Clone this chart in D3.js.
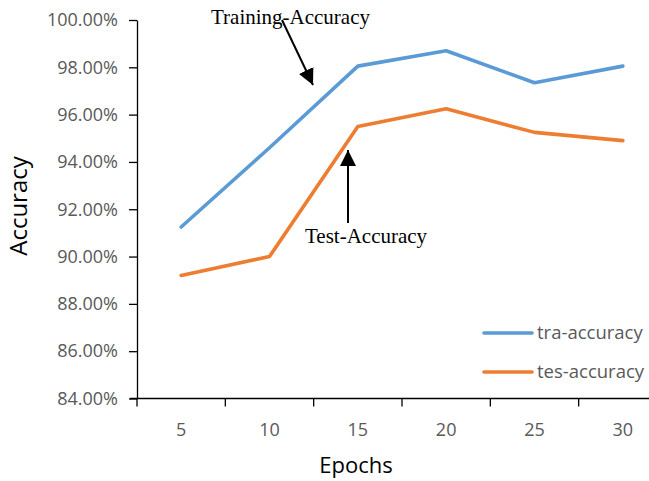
<!DOCTYPE html>
<html>
<head>
<meta charset="utf-8">
<script src="https://cdn.jsdelivr.net/npm/d3@7"></script>
<style>
  html, body { margin: 0; padding: 0; background: #fff; }
  svg { display: block; }
</style>
</head>
<body>
<svg id="chart" width="649" height="481"></svg>
<script>
// Epoch categories and accuracy per series (percent)
const epochs = ["5", "10", "15", "20", "25", "30"];
const traAccuracy = [91.25, 94.6, 98.05, 98.7, 97.35, 98.05];
const tesAccuracy = [89.2, 90.0, 95.5, 96.25, 95.25, 94.9];
const yTicks = [84, 86, 88, 90, 92, 94, 96, 98, 100];
const seriesNames = ["tra-accuracy", "tes-accuracy"];
const seriesColors = ["#5B9BD5", "#ED7D31"];

const svg = d3.select("#chart");
const sansFont = "'Open Sans', 'DejaVu Sans', sans-serif";
const serifFont = "'Liberation Serif', 'DejaVu Serif', serif";

const x = d3.scaleBand().domain(epochs).range([137, 667]);
const y = d3.scaleLinear().domain([84, 100]).range([398.5, 20]);

// Y axis
const yAxis = svg.append("g")
  .attr("transform", "translate(137,0)")
  .call(d3.axisLeft(y).tickValues(yTicks).tickSize(8).tickSizeOuter(0)
    .tickFormat(d => d.toFixed(2) + "%"));
yAxis.select(".domain").attr("stroke", "#000").attr("stroke-width", 1.3);
yAxis.selectAll(".tick line").attr("stroke", "#000").attr("stroke-width", 1.3);
yAxis.selectAll(".tick text")
  .attr("x", -19)
  .attr("fill", "#595959")
  .style("font-family", sansFont)
  .style("font-size", "18px");

// X axis: ticks sit on the band boundaries, labels at band centres
const xAxisG = svg.append("g").attr("transform", "translate(0,398.5)");
xAxisG.append("line")
  .attr("x1", 130).attr("x2", 667)
  .attr("stroke", "#000").attr("stroke-width", 1.3);
const bounds = epochs.map(e => x(e)).concat([x.range()[1]]);
xAxisG.selectAll("line.tick")
  .data(bounds)
  .join("line")
  .attr("class", "tick")
  .attr("x1", d => d).attr("x2", d => d)
  .attr("y1", 0).attr("y2", 8)
  .attr("stroke", "#000").attr("stroke-width", 1.3);
xAxisG.selectAll("text")
  .data(epochs)
  .join("text")
  .attr("x", d => x(d) + x.bandwidth() / 2)
  .attr("y", 37)
  .attr("text-anchor", "middle")
  .attr("fill", "#595959")
  .style("font-family", sansFont)
  .style("font-size", "18px")
  .text(d => d);

// Axis titles
svg.append("text")
  .attr("x", 356).attr("y", 473)
  .attr("text-anchor", "middle")
  .attr("fill", "#000")
  .style("font-family", sansFont)
  .style("font-size", "22px")
  .text("Epochs");

svg.append("text")
  .attr("transform", "translate(27,206) rotate(-90)")
  .attr("text-anchor", "middle")
  .attr("fill", "#000")
  .style("font-family", sansFont)
  .style("font-size", "24px")
  .text("Accuracy");

// Series lines
const line = d3.line()
  .x((d, i) => x(epochs[i]) + x.bandwidth() / 2)
  .y(d => y(d));

[traAccuracy, tesAccuracy].forEach((vals, i) => {
  svg.append("path")
    .datum(vals)
    .attr("d", line)
    .attr("fill", "none")
    .attr("stroke", seriesColors[i])
    .attr("stroke-width", 3.6)
    .attr("stroke-linejoin", "round")
    .attr("stroke-linecap", "round");
});

// Legend
const legend = svg.append("g");
seriesNames.forEach((name, i) => {
  const ly = 333 + i * 39;
  legend.append("line")
    .attr("x1", 484).attr("x2", 532)
    .attr("y1", ly).attr("y2", ly)
    .attr("stroke", seriesColors[i])
    .attr("stroke-width", 3.6)
    .attr("stroke-linecap", "round");
  legend.append("text")
    .attr("x", 537).attr("y", ly + 6)
    .attr("fill", "#595959")
    .style("font-family", sansFont)
    .style("font-size", "18.5px")
    .text(name);
});

// Annotations with arrows
const defs = svg.append("defs");
defs.append("marker")
  .attr("id", "arrowhead")
  .attr("viewBox", "0 0 10 10")
  .attr("refX", 10).attr("refY", 5)
  .attr("markerWidth", 8).attr("markerHeight", 8)
  .attr("markerUnits", "strokeWidth")
  .attr("orient", "auto")
  .append("path")
  .attr("d", "M0,0 L10,5 L0,10 Z")
  .attr("fill", "#000");

svg.append("text")
  .attr("x", 211).attr("y", 24)
  .attr("fill", "#000")
  .style("font-family", serifFont)
  .style("font-size", "21px")
  .text("Training-Accuracy");

svg.append("line")
  .attr("x1", 282).attr("y1", 20)
  .attr("x2", 313).attr("y2", 85)
  .attr("stroke", "#000").attr("stroke-width", 2)
  .attr("marker-end", "url(#arrowhead)");

svg.append("text")
  .attr("x", 305).attr("y", 243)
  .attr("fill", "#000")
  .style("font-family", serifFont)
  .style("font-size", "21px")
  .text("Test-Accuracy");

svg.append("line")
  .attr("x1", 348).attr("y1", 223)
  .attr("x2", 348).attr("y2", 150)
  .attr("stroke", "#000").attr("stroke-width", 2)
  .attr("marker-end", "url(#arrowhead)");
</script>
</body>
</html>
